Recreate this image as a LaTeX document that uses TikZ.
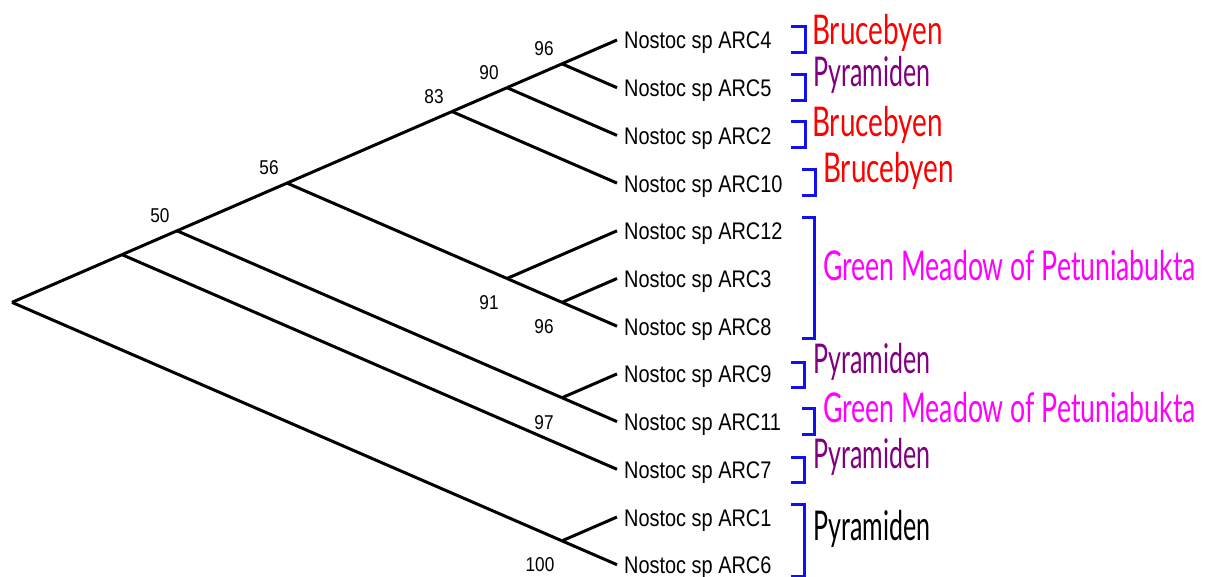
\documentclass[tikz,border=0pt]{standalone}
\usepackage{fontspec}
\newfontfamily\arcfont[FakeStretch=0.83]{Liberation Sans}
\newfontfamily\numfont[FakeStretch=0.86]{Liberation Sans}
\newfontfamily\handB[FakeStretch=0.68]{Lato}
\newfontfamily\handP[FakeStretch=0.61]{Lato}
\newfontfamily\handG[FakeStretch=0.65]{Lato}
\definecolor{brb}{HTML}{1010F0}
\definecolor{bruce}{HTML}{FF0000}
\definecolor{pyr}{HTML}{800080}
\definecolor{green}{HTML}{FF00FF}
\begin{document}
\begin{tikzpicture}[x=1pt,y=-1pt,
  branch/.style={line width=3pt, black},
  leaflab/.style={anchor=base west, inner sep=0pt, font=\arcfont\fontsize{24}{24}\selectfont},
  boot/.style={anchor=center, inner sep=0pt, font=\numfont\fontsize{20}{20}\selectfont},
  brk/.style={line width=3pt, brb},
  region/.style={anchor=base west, inner sep=0pt},
  regB/.style={region, font=\handB\fontsize{41}{41}\selectfont},
  regP/.style={region, font=\handP\fontsize{41}{41}\selectfont},
  regG/.style={region, font=\handG\fontsize{41}{41}\selectfont}]
\useasboundingbox (0,0) rectangle (1207,577);
% leaf tips
\foreach \i in {0,...,11} {
  \coordinate (t\i) at (617,{40+47.7*\i});
}
% internal nodes
\coordinate (n45) at (562,63.85);
\coordinate (n90) at (507,87.7);
\coordinate (n83) at (452,111.55);
\coordinate (n96b) at (562,302.35);
\coordinate (n91) at (507,278.5);
\coordinate (n56) at (287,183.1);
\coordinate (n97) at (562,397.75);
\coordinate (n50) at (177,230.8);
\coordinate (nr2) at (122,254.65);
\coordinate (n100) at (562,540.85);
\coordinate (root) at (12,302.35);
% branches
\draw[branch] (root) -- (nr2);
\draw[branch] (root) -- (n100);
\draw[branch] (nr2) -- (n50);
\draw[branch] (nr2) -- (t9);
\draw[branch] (n50) -- (n56);
\draw[branch] (n50) -- (n97);
\draw[branch] (n56) -- (n83);
\draw[branch] (n56) -- (n91);
\draw[branch] (n83) -- (n90);
\draw[branch] (n83) -- (t3);
\draw[branch] (n90) -- (n45);
\draw[branch] (n90) -- (t2);
\draw[branch] (n45) -- (t0);
\draw[branch] (n45) -- (t1);
\draw[branch] (n91) -- (t4);
\draw[branch] (n91) -- (n96b);
\draw[branch] (n96b) -- (t5);
\draw[branch] (n96b) -- (t6);
\draw[branch] (n97) -- (t7);
\draw[branch] (n97) -- (t8);
\draw[branch] (n100) -- (t10);
\draw[branch] (n100) -- (t11);
% leaf labels
\node[leaflab] (l0) at (624,49) {Nostoc sp ARC4};
\node[leaflab] (l1) at (624,96.7) {Nostoc sp ARC5};
\node[leaflab] (l2) at (624,144.4) {Nostoc sp ARC2};
\node[leaflab] (l3) at (624,192.1) {Nostoc sp ARC10};
\node[leaflab] (l4) at (624,239.8) {Nostoc sp ARC12};
\node[leaflab] (l5) at (624,287.5) {Nostoc sp ARC3};
\node[leaflab] (l6) at (624,335.2) {Nostoc sp ARC8};
\node[leaflab] (l7) at (624,382.9) {Nostoc sp ARC9};
\node[leaflab] (l8) at (624,430.6) {Nostoc sp ARC11};
\node[leaflab] (l9) at (624,478.3) {Nostoc sp ARC7};
\node[leaflab] (l10) at (624,526) {Nostoc sp ARC1};
\node[leaflab] (l11) at (624,573.7) {Nostoc sp ARC6};
% bootstrap values
\node[boot] (b96) at (544,49) {96};
\node[boot] (b90) at (489,73) {90};
\node[boot] (b83) at (434,97) {83};
\node[boot] (b56) at (269,168) {56};
\node[boot] (b50) at (160,216) {50};
\node[boot] (b91) at (489,303) {91};
\node[boot] (b96b) at (544,327) {96};
\node[boot] (b97) at (544,423) {97};
\node[boot] (b100) at (540,565) {100};
% brackets
\draw[brk] (791,27) -- (805,27) -- (805,53) -- (791,53);
\draw[brk] (791,75) -- (805,75) -- (805,101) -- (791,101);
\draw[brk] (791,122) -- (805,122) -- (805,148) -- (791,148);
\draw[brk] (802,170) -- (815,170) -- (815,196) -- (802,196);
\draw[brk] (802,218) -- (814,218) -- (814,338) -- (802,338);
\draw[brk] (791,362) -- (804,362) -- (804,387) -- (791,387);
\draw[brk] (802,408) -- (814,408) -- (814,434) -- (802,434);
\draw[brk] (791,457) -- (804,457) -- (804,482) -- (791,482);
\draw[brk] (791,504) -- (804,504) -- (804,576) -- (791,576);
% regions
\node[regB, text=bruce] (r1) at (812,45) {Brucebyen};
\node[regP, text=pyr] (r2) at (813,87) {Pyramiden};
\node[regB, text=bruce] (r3) at (812,137) {Brucebyen};
\node[regB, text=bruce] (r4) at (823,183) {Brucebyen};
\node[regG, text=green] (r5) at (823,281) {Green Meadow of Petuniabukta};
\node[regP, text=pyr] (r6) at (813,373) {Pyramiden};
\node[regG, text=green] (r7) at (823,422) {Green Meadow of Petuniabukta};
\node[regP, text=pyr] (r8) at (813,468) {Pyramiden};
\node[regP, text=black] (r9) at (813,540) {Pyramiden};
\end{tikzpicture}
\end{document}
